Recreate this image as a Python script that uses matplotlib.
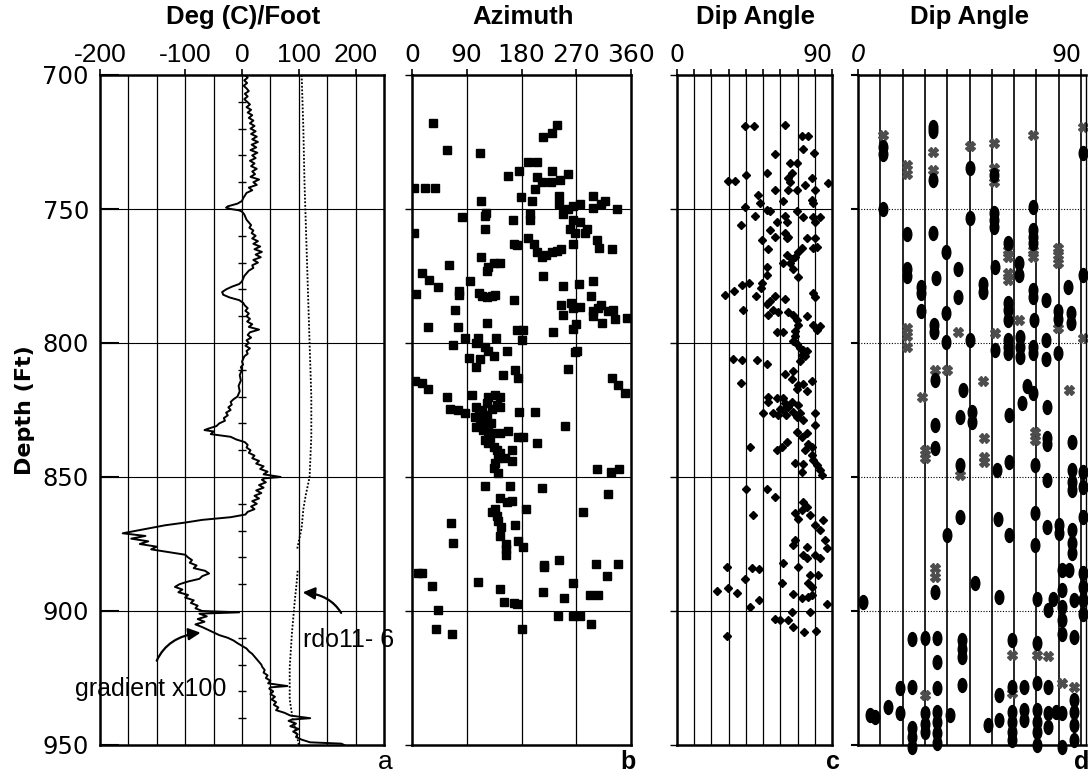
import numpy as np
import matplotlib.pyplot as plt
from matplotlib.path import Path

# ---- panel a: temperature gradient (x100) and rdo11-6 log ----
grad_depth = [700, 701, 702, 703, 704, 705, 706, 707, 708, 709, 710, 711, 712, 713, 714, 715,
              716, 717, 718, 719, 720, 721, 722, 723, 724, 725, 726, 727, 728, 729, 730, 731,
              732, 733, 734, 735, 736, 737, 738, 739, 740, 741, 742, 743, 744, 745, 746, 747,
              748, 749, 749.5, 750, 750.5, 751, 752, 753, 754, 755, 756, 757, 758, 759, 760,
              761, 762, 763, 764, 765, 766, 767, 768, 769, 770, 771, 772, 773, 774, 775, 776,
              777, 778, 779, 780, 781, 782, 783, 784, 785, 786, 787, 788, 789, 790, 791, 792,
              793, 794, 795, 796, 797, 798, 799, 800, 801, 802, 803, 804, 805, 806, 807, 808,
              809, 810, 812, 814, 816, 818, 820, 821, 822, 823, 824, 825, 826, 827, 828, 829,
              830, 831, 832, 832.5, 833, 834, 835, 836, 837, 838, 839, 840, 841, 842, 843, 844,
              845, 846, 847, 848, 849, 850, 850.5, 851, 852, 853, 854, 855, 856, 857, 858, 859,
              860, 861, 862, 863, 864, 865, 866, 867, 868, 869, 870, 871, 872, 873, 874, 875,
              876, 877, 878, 879, 880, 881, 882, 883, 884, 885, 886, 887, 888, 889, 890, 891,
              892, 893, 894, 895, 896, 897, 898, 899, 900, 900.5, 901, 902, 903, 904, 905, 906,
              907, 908, 909, 910, 911, 912, 913, 914, 915, 916, 917, 918, 919, 920, 921, 922,
              923, 924, 925, 926, 927, 928, 928.5, 929, 930, 931, 932, 933, 934, 935, 936, 937,
              938, 939, 940, 940.5, 941, 942, 943, 944, 945, 946, 947, 948, 949, 949.5, 950]
grad_value = [5, 10, 4, 9, 3, 8, 12, 5, 10, 4, 9, 14, 8, 16, 10, 18,
              12, 20, 14, 22, 15, 24, 16, 26, 18, 28, 17, 25, 15, 27, 18, 24,
              14, 22, 16, 26, 18, 23, 15, 30, 20, 26, 12, 18, 8, 5, 2, 0,
              -8, -25, -28, -20, -5, 0, 4, 6, 8, 12, 16, 13, 20, 17, 24,
              18, 28, 20, 32, 22, 35, 24, 33, 20, 28, 18, 20, 12, 8, 4, 2,
              0, -5, -18, -28, -35, -33, -22, -5, 2, 5, 10, 6, 12, 8, 14, 9,
              18, 12, 30, 14, 10, 16, 8, 12, 6, 14, 8, 10, 4, 2, 0, 2,
              -2, 0, -4, -2, -6, -4, -8, -15, -20, -18, -24, -20, -28, -25, -32, -30,
              -40, -45, -60, -66, -50, -55, -20, -10, 5, 10, 8, 15, 12, 22, 18, 30,
              25, 38, 32, 45, 38, 68, 40, 35, 42, 30, 38, 25, 34, 22, 30, 18,
              26, 16, 22, 10, 6, -20, -70, -100, -135, -160, -185, -210, -170, -195, -165, -180,
              -150, -160, -130, -100, -95, -88, -92, -80, -85, -65, -58, -70, -75, -95, -110, -118,
              -105, -112, -95, -100, -85, -90, -78, -82, -70, -5, -75, -62, -78, -66, -82, -70,
              -60, -50, -40, -25, -15, -8, 0, 8, 12, 18, 22, 26, 30, 34, 36, 40,
              38, 45, 42, 50, 46, 80, 50, 48, 55, 50, 58, 52, 60, 56, 64, 60,
              75, 85, 120, 88, 82, 95, 85, 100, 90, 98, 95, 105, 120, 175, 180]

rdo_depth_upper = [700, 720, 740, 760, 780, 800, 820, 835, 850, 857, 862, 869, 874, 877]
rdo_value_upper = [105, 108, 110, 113, 116, 119, 122, 122, 119, 112, 108, 105, 100, 97]
rdo_depth_lower = [885, 890, 896, 908, 921, 933, 940, 945, 950]
rdo_value_lower = [98, 96, 93, 88, 84, 84, 89, 95, 100]

zero_marks = [710, 720, 730, 740, 760, 770, 780, 790, 810, 820, 830, 840,
              860, 870, 880, 890, 910, 920, 930, 940]

grad_ticks = [-250, -100, 0, 100, 200]
grad_ticklabels = ['-200', '-100', '0', '100', '200']

# ---- panel b: azimuth ----
az_depth = [717.8, 728, 729, 718.7, 721.8, 723, 732.3, 732.3, 737.6, 736, 735.8, 737, 738, 740, 740,
            739, 742.6, 742, 742, 742, 745.4, 747, 747, 745, 748, 745, 748, 747, 749.6, 750,
            752, 750, 749, 748, 752.9, 752.5, 751.5, 754, 752, 754, 754, 755, 759, 757.5, 757.5,
            759, 759, 763, 757.5, 763, 763.5, 761, 763, 766, 768, 767, 766, 765.5, 765, 761.7,
            764.7, 765, 768, 771.5, 770, 770, 773, 771, 774, 776.5, 779, 775, 777, 780.7, 782,
            781.4, 782.5, 783, 782.5, 782, 784, 778.7, 778, 777, 781.7, 786, 785, 787, 786.5,
            789.6, 782.5, 788, 787, 786, 788, 787.5, 790, 792.5, 791, 790.6, 787.7, 794, 794,
            792.7, 795, 795, 795.8, 794.6, 793, 800.7, 798, 798, 798, 800, 801.5, 803, 805, 799,
            803, 805.7, 806, 809, 803.5, 803, 809.8, 812, 810, 813, 813, 815.5, 818.6, 814, 815,
            817, 820, 819.5, 820, 819.5, 820,
            824.6, 825, 826, 823.8, 825, 822.5, 824.5, 823, 827.5, 828.7, 831.2, 832.4, 833,
            833.7, 836.2, 837.4, 838.7, 839.9, 841.2, 843, 844.9, 846.8, 848.6, 835.5, 823.8,
            826, 829.5, 830, 827, 833.7, 832.7, 825.6, 825.6, 831, 834.9, 834.9, 837.4, 840,
            844, 843, 847, 848, 847, 853.4, 853.4, 854, 856.5, 858, 859.5, 859, 862, 864.5,
            866.5, 868.6, 863, 862, 863, 867, 868, 872, 875, 877, 879, 874, 876, 874.7, 883,
            883.5, 881, 882.6, 882.6, 887, 889.4, 885.7, 885.7, 890.7, 889, 891.8, 892.9, 895,
            894, 894, 896.5, 897, 897.4, 899.6, 902, 902, 902, 905, 906.7, 908.6, 906.7]
az_value = [35, 57, 112, 238, 230, 215, 191, 205, 157, 176, 230, 257, 205, 214, 228,
            244, 202, 3, 21, 37, 179, 198, 113, 242, 242, 298, 311, 317, 298, 337,
            249, 257, 265, 276, 82, 120, 121, 166, 194, 194, 265, 276, 4, 120, 260,
            268, 284, 265, 287, 167, 172, 191, 200, 205, 213, 221, 230, 238, 245, 304,
            308, 328, 113, 125, 134, 145, 124, 61, 16, 28, 42, 216, 95, 78, 78,
            110, 115, 123, 131, 137, 168, 249, 274, 297, 7, 245, 261, 265, 276,
            249, 294, 298, 306, 311, 322, 330, 298, 313, 334, 353, 71, 27, 75,
            124, 172, 183, 231, 264, 270, 67, 87, 109, 138, 106, 120, 125, 134, 180,
            156, 93, 111, 106, 268, 272, 257, 150, 169, 175, 328, 339, 350, 5, 16,
            26, 57, 98, 125, 137, 145,
            62, 76, 87, 106, 115, 123, 131, 139, 104, 112, 106, 117, 125,
            131, 120, 125, 134, 139, 145, 142, 136, 134, 142, 128, 145,
            110, 120, 130, 123, 145, 157, 176, 202, 252, 175, 183, 205, 164,
            164, 153, 304, 327, 341, 120, 161, 213, 322, 145, 156, 164, 136, 139,
            142, 147, 131, 187, 281, 64, 169, 144, 155, 155, 155, 175, 183, 68, 217,
            217, 242, 302, 339, 320, 265, 10, 16, 33, 109, 145, 216, 250,
            293, 306, 152, 167, 173, 42, 240, 265, 276, 295, 39, 65, 181]

# ---- panel c: dip angle ----
dip_c_depth = [719, 719, 718.7, 722.8, 722.8, 727.6, 729, 729.5, 732.8, 732.8, 737.3, 736.4, 736.6,
               738.5, 740, 739.6, 739.6, 738.4, 741, 740.3, 743, 743, 743, 743, 744.8, 746.6,
               747.8, 747, 747.8, 749.4, 750.4, 750.6, 750.6, 752.6, 752.6, 754.9, 754.9, 753,
               753, 753, 755, 756, 757.8, 760.4, 759, 760.4, 761, 761, 761, 764, 764.6, 761.6,
               765, 764.6, 766, 767.8, 768.5, 767, 770, 770, 771.6, 774.6, 772.4, 775.4, 777.6,
               779.5, 777.6, 778.5, 780.5, 782, 782.5, 782.3, 783.5, 784.3, 785.5, 787.7, 781.3,
               782.8, 787.7, 788.4, 789.7, 791.5, 793.3, 789.6, 788.5, 790, 793.3, 795, 793.8,
               795.8, 795.8, 795.5, 799.2, 800.5, 801.8, 802.5, 804.5, 797.3, 806, 806.5, 806.3,
               807.8, 805, 806.8, 803, 815, 811.5, 810.3, 813.3, 815.8, 815.3, 814, 817.8, 817.2,
               820, 820.5, 820.5,
               821.9, 826.3, 826.9, 825, 823.8, 825.7, 827.5, 822.5, 821.9, 826.3, 828.8, 826.3,
               826, 830.6, 824.5, 827, 823, 833.1, 835, 833.7, 837.5, 840, 841.8, 843.7, 845.6,
               847.4, 849.3, 838.7, 840, 838.7, 836.8, 838.7, 844.7, 845.3, 848, 854.3, 854.3,
               857.4, 864.2, 859.2, 861.1, 862.3, 864.2, 868, 866.1, 869.8, 863.6, 865.5, 873.5,
               875.4, 876, 873.5, 876.6, 879.1, 880.4, 879.1, 880.4, 882.2, 883.7, 884.1, 884.5,
               883.5, 886.6, 886.6, 889.7, 891, 888.2, 889.7, 892.6, 891.6, 893.2, 893.8, 895.3,
               894.7, 894.1, 897.4, 898.4, 895.9, 900.5, 900.5, 902.9, 903.4, 903.4, 906.1, 907.7,
               907.4, 909.4]
dip_c_value = [39.5, 44.9, 62.7, 72.4, 76.2, 73, 79.7, 56.9, 65.6, 69.5, 40, 52, 66.6,
               64.6, 65.6, 29.8, 33.7, 78.2, 74.3, 87.9, 56.9, 64.6, 69.5, 80.1, 46.8, 78.2,
               79.1, 61.7, 48.2, 39.5, 52, 54, 69.5, 45.3, 62.7, 57.9, 63.7, 73,
               79.1, 83, 80.1, 37.2, 54, 56.9, 62.7, 64.6, 63.7, 75.3, 80.1, 81.1, 79.1, 49.2,
               53, 72.4, 70.4, 68.5, 66.6, 63.7, 61.7, 65.6, 52, 52, 67.5, 70.4, 49.2,
               48.8, 42, 37.6, 33.1, 27.9, 45.9, 56.9, 62.7, 54, 52, 55.9, 79.1,
               80.1, 38.5, 64.6, 67.5, 69.5, 70.4, 53, 58.8, 75.3, 78.8, 81.1, 83,
               57.9, 61.7, 68.5, 67.5, 69.5, 71.4, 73.3, 72.4, 68.5, 32.7, 37.6, 46.3,
               52, 74.3, 71.4, 75.3, 37.2, 62.7, 67.5, 66.6, 70.4, 73.3, 78.2, 75.3, 69.5,
               53, 57.9, 61.7,
               53, 55.9, 58.8, 61.7, 64.6, 67.5, 69.5, 62.7, 66.6, 71.4, 73.3, 80.1,
               50.1, 80.1, 60, 63, 70, 69.5, 72.4, 75.3, 76.2, 74.3, 78.2, 79.1, 81.1,
               83, 84, 78.2, 57.9, 60.8, 63.7, 42.4, 68.5, 73.3, 72.4, 40, 52.4,
               56.9, 43.9, 73.3, 75.3, 72.4, 77.2, 80.1, 84.9, 83, 68.5, 70.4, 68.5,
               67.5, 75.3, 85.9, 86.9, 73.3, 75.3, 80.1, 83, 61.7, 70.4, 43.3, 47.8,
               28.8, 77.2, 82, 76.2, 78.2, 39.5, 60.8, 23, 29.8, 35, 67.5, 72.4,
               76.2, 78.2, 86.9, 42.4, 47.8, 66.6, 77.2, 56.9, 59.8, 64.6, 67.2, 73.9,
               80.5, 28.8]

# ---- panel d: dip angle, two symbol types ----
dip_d_depth = [729.5, 727, 750, 759.3, 772.5, 775, 719.3, 721, 739.2, 759, 775.9, 793.3, 795.8,
               779, 781.5, 788, 766, 788.9, 799.5, 772.5, 782.7, 734.7, 753.4, 798.9, 778, 781,
               737.3, 751.5, 754, 756.6, 771.6, 802.6, 762.8, 785, 787.7, 791.4, 798.9, 801.4,
               803.9, 770, 774.6, 797.9, 801.4, 805.1, 749.4, 757.8, 760.3, 762.8, 780.2, 782.7,
               791.4, 801.4, 803.9, 784, 798.9, 806, 788, 791, 803.9, 779, 788.9, 792.5, 729.2,
               774.6, 813.8, 817.5, 816, 818.7,
               830.6, 839.3, 827.5, 845.6, 825.7, 829.4, 847.4, 826.9, 844.3, 822.5, 845.6, 823.8,
               835.6, 837.5, 851.2, 836.8, 847.4, 851.8, 854.9, 848, 853.6, 864.8, 865.1, 865.5,
               863.6, 875.4, 868.6, 867.9, 871, 869.8, 874.8, 878.5, 871.7, 871.7, 892.8, 889.7,
               894.7, 895.7, 899.7, 895.7, 884.7, 892.2, 898.4, 903.4, 908.4, 884.7, 896, 909.6,
               886, 891, 896, 901, 896.5, 910.6, 910.2, 910, 918.9, 910.9, 914, 917.1, 927.6,
               910.9, 928.3, 911.8, 928.9, 938.2, 928.5, 938.2, 942, 945, 928.9, 937.6, 941.3,
               945.7, 949.4, 938.8, 938.8, 939.5, 935.7, 943.8, 946.9, 950.6, 942.6, 931.4, 940.7,
               937.6, 941.3, 945, 948.2, 928.3, 937, 940.7, 927, 937, 941.3, 945, 950, 928.3,
               938.2, 943.2, 938.2, 950.6, 933.2, 937.6, 942.6, 948.2, 937.6]
dip_d_value = [10.2, 10.2, 10.2, 19.9, 19.9, 19.9, 30.4, 30.4, 30.4, 30.4, 31.5, 30.6, 30.6,
               25.4, 25.4, 25.4, 35.5, 35.5, 35.5, 40.5, 40.5, 45.2, 45.2, 45.2, 50.6, 50.6,
               55, 55, 55, 55, 55.3, 55.3, 60.4, 60.4, 60.4, 60.4, 60.4, 60.4,
               60.4, 65.1, 65.1, 65.5, 65.5, 65.5, 70.5, 70.5, 70.5, 70.5, 70.5, 70.5,
               71, 70.5, 70.5, 75.9, 75.9, 75.9, 80.8, 80.8, 80.8, 84.9, 85.8, 85.8, 90.7,
               90.7, 31, 42.5, 68, 70.8,
               31.1, 31.1, 41.2, 41.2, 46.1, 46.1, 56, 61.1, 61.1, 66.1, 71.4, 76.2,
               76.2, 76.2, 76.2, 86.2, 86.2, 86.2, 86.2, 90.9, 90.9, 90.9, 41.2, 56.3,
               71.4, 71.4, 76.2, 81.2, 81.2, 86.2, 86.2, 86.2, 36, 61.1, 31.1, 47.2,
               57, 72.1, 76.8, 78.8, 82.2, 82.2, 82.2, 82.2, 82.2, 85, 87.2, 87.2,
               90.9, 90.9, 90.9, 90.9, 2, 21.9, 27, 32, 32, 41.9, 41.9, 41.9, 41.9,
               62, 62, 72.1, 17, 17, 21.9, 27, 27, 27, 32, 32, 32,
               32, 32, 37.1, 4.8, 6.9, 12.2, 21.9, 21.9, 21.9, 52.6, 57, 57,
               62, 62, 62, 62, 67, 67, 67, 72.1, 72.1, 72.1, 72.1, 72.1, 76.8,
               76.8, 76.8, 82.2, 82.2, 87.2, 87.2, 87.2, 87.2, 80]

hatch_d_depth = [722.4, 733.6, 737, 794.5, 797.5, 801.5, 728.6, 735.4, 795.8, 726.4, 725.5, 734.7,
                 739.8, 796.4, 765.3, 767.8, 774, 776.5, 791.4, 722.4, 765.3, 767.8, 764.6, 767.3,
                 770, 794.5, 719.3, 798.1, 810, 810, 814.3, 817.5, 820,
                 840, 843, 849.3, 835.6, 842.4, 844.3, 833.1, 836.2, 884.1, 887.2, 916.5, 930.7,
                 916.5, 916.8, 931.4, 927, 928.3]
hatch_d_value = [10.2, 19.9, 19.9, 19.9, 19.9, 19.9, 30.4, 30.4, 40.5, 45.2, 55, 55,
                 55, 55.3, 60.4, 60.4, 60.4, 60.4, 65.1, 70.5, 70.5, 70.5, 80.8, 80.8,
                 80.8, 80.8, 90.7, 90.7, 31, 35.8, 50.6, 85, 25.7,
                 27, 27, 41.2, 50.9, 50.9, 50.9, 71.4, 71.4, 31.1, 31.1, 62, 62,
                 72.1, 76.8, 27, 82.2, 87.2]

depth_ticks = [700, 750, 800, 850, 900, 950]
depth_grid = [750, 800, 850, 900]

plt.rcParams['font.family'] = ['DejaVu Sans']

fig = plt.figure(figsize=(10.88, 7.76), dpi=100)
H = 776.0
W = 1088.0
bottom = 1 - 745 / H
height = 670 / H


def make_axes(left_px, width_px):
    ax = fig.add_axes([left_px / W, bottom, width_px / W, height])
    ax.set_ylim(950, 700)
    for s in ax.spines.values():
        s.set_linewidth(1.8)
    ax.xaxis.tick_top()
    ax.tick_params(axis='x', which='major', top=True, bottom=False, labeltop=True,
                   labelbottom=False, direction='out', length=4, width=1.2, pad=2)
    ax.set_yticks(depth_ticks)
    return ax


# panel a
ax_a = make_axes(100, 284)
ax_a.set_xlim(-250, 250)
for xv in [-200, -150, -100, -50, 0, 50, 100, 150, 200]:
    ax_a.axvline(xv, color='black', lw=0.9)
for d in depth_grid:
    ax_a.axhline(d, color='black', lw=0.8)
ax_a.plot(grad_value, grad_depth, color='black', lw=1.4)
ax_a.plot(rdo_value_upper, rdo_depth_upper, color='black', lw=1.3, ls=(0, (1, 1)))
ax_a.plot(rdo_value_lower, rdo_depth_lower, color='black', lw=1.3, ls=(0, (1, 1)))
ax_a.plot([0] * len(zero_marks), zero_marks, ls='none', marker='_', ms=6, mew=1, color='black')
ax_a.set_xticks(grad_ticks)
ax_a.set_xticklabels(grad_ticklabels, family='Liberation Sans', fontsize=19)
ax_a.set_yticklabels([str(t) for t in depth_ticks], fontsize=17.5)
ax_a.tick_params(axis='y', direction='in', length=14, width=1.5, pad=8)
ax_a.annotate('gradient x100', xy=(-68, 908), xytext=(-160, 929),
              fontsize=18, family='Liberation Sans', ha='center', va='center',
              arrowprops=dict(arrowstyle='-|>', color='black', lw=1.6,
                              connectionstyle='arc3,rad=-0.45', shrinkA=10))
ax_a.annotate('rdo11- 6', xy=(102, 893), xytext=(188, 911),
              fontsize=18, family='Liberation Sans', ha='center', va='center',
              arrowprops=dict(arrowstyle='-|>', color='black', lw=1.6,
                              connectionstyle='arc3,rad=0.45', shrinkA=10))

# panel b
ax_b = make_axes(412, 219)
ax_b.set_xlim(0, 360)
for xv in [90, 180, 270]:
    ax_b.axvline(xv, color='black', lw=0.9)
for d in depth_grid:
    ax_b.axhline(d, color='black', lw=0.8)
ax_b.plot(az_value, az_depth, ls='none', marker='s', ms=5.5, color='black')
ax_b.set_xticks([0, 90, 180, 270, 360])
ax_b.set_xticklabels(['0', '90', '180', '270', '360'], fontsize=18)
ax_b.set_yticklabels([])
ax_b.tick_params(axis='y', direction='out', length=5, width=1)

# panel c
ax_c = make_axes(677, 155)
ax_c.set_xlim(0, 90)
for xv in [10, 20, 30, 40, 50, 60, 70, 80]:
    ax_c.axvline(xv, color='black', lw=0.9)
for d in depth_grid:
    ax_c.axhline(d, color='black', lw=0.8)
ax_c.plot(dip_c_value, dip_c_depth, ls='none', marker='D', ms=4.5, color='black')
ax_c.set_xticks([0, 10, 20, 30, 40, 50, 60, 70, 80, 90])
ax_c.set_xticklabels(['0', '', '', '', '', '', '', '', '', '90'], fontsize=17)
ax_c.get_xticklabels()[-1].set_horizontalalignment('right')
ax_c.set_yticklabels([])
ax_c.tick_params(axis='y', direction='out', length=5, width=1)

# panel d
circ = Path.unit_circle()
ellipse = Path(circ.vertices * np.array([0.62, 1.0]), circ.codes)
ax_d = make_axes(858, 228)
ax_d.set_xlim(0, 92)
ax_d.spines['right'].set_linewidth(1.0)
for xv in [9, 18, 27, 36, 45, 54, 63, 72, 81, 90]:
    ax_d.axvline(xv, color='black', lw=1.2)
for d in depth_grid:
    ax_d.axhline(d, color='black', lw=0.8, ls=(0, (1, 1.5)))
ax_d.plot(hatch_d_value, hatch_d_depth, ls='none', marker='X', ms=6.5, color='0.3', clip_on=False)
ax_d.plot(dip_d_value, dip_d_depth, ls='none', marker=ellipse, ms=10, color='black', clip_on=False)
ax_d.set_xticks([0, 9, 18, 27, 36, 45, 54, 63, 72, 81, 90])
ax_d.set_xticklabels(['0', '', '', '', '', '', '', '', '', '', '90'], fontsize=17)
ax_d.get_xticklabels()[0].set_fontstyle('italic')
ax_d.get_xticklabels()[-1].set_horizontalalignment('right')
ax_d.set_yticklabels([])
ax_d.tick_params(axis='y', direction='out', length=5, width=1.5)

# titles and panel letters
for cx, title in [(243, 'Deg (C)/Foot'), (523, 'Azimuth'), (755, 'Dip Angle'), (970, 'Dip Angle')]:
    fig.text(cx / W, 1 - 17 / H, title, ha='center', va='center', fontsize=18.5,
             fontweight='bold', family='Liberation Sans')
fig.text(25 / W, 1 - 410 / H, 'Depth (Ft)', rotation=90, ha='center', va='center',
         fontsize=16, fontweight='bold')
fig.text(385 / W, 1 - 762 / H, 'a', ha='center', va='center', fontsize=19,
         family='Liberation Sans')
for cx, letter in [(628, 'b'), (833, 'c'), (1082, 'd')]:
    fig.text(cx / W, 1 - 762 / H, letter, ha='center', va='center', fontsize=18,
             fontweight='bold', family='Liberation Sans')

fig.savefig('out.png', dpi=100)
